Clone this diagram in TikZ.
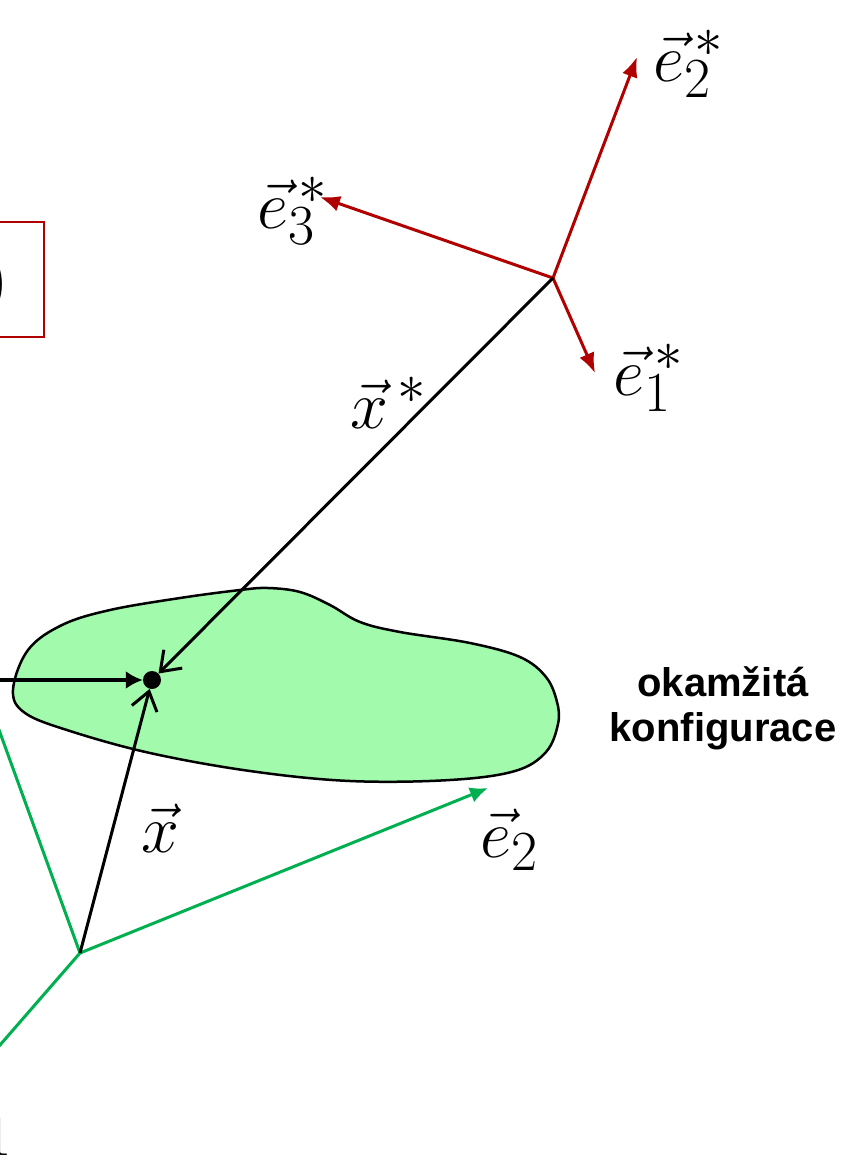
\documentclass[tikz,border=0pt]{standalone}
\usepackage{fontspec}
\newfontfamily\arialfont{Liberation Sans}
\usetikzlibrary{arrows.meta}
\definecolor{axred}{RGB}{176,0,0}
\definecolor{axgreen}{RGB}{0,176,80}
\definecolor{blobfill}{RGB}{162,250,172}
\begin{document}
\begin{tikzpicture}[x=1pt,y=-1pt,
  lab/.style={font=\Huge, inner sep=0pt, scale=2.733},
  redax/.style={draw=axred, line width=3pt, -{Latex[length=20pt,width=16pt]}},
  greenax/.style={draw=axgreen, line width=3pt, -{Latex[length=18pt,width=16pt]}},
  greenline/.style={draw=axgreen, line width=3pt},
  blackfill/.style={draw=black, line width=3.2pt, -{Latex[length=17pt,width=18pt]}},
  blackopen/.style={draw=black, line width=3pt, -{Straight Barb[length=18pt,width=26pt,line width=3pt]}}]
\useasboundingbox (0,0) rectangle (843,1162);
% body
\path[draw=black, line width=2.5pt, fill=blobfill] plot[smooth cycle, tension=0.6] coordinates {
 (13,690) (28,650) (62,625) (110,610) (180,598) (240,590) (268,588) (300,592)
 (330,605) (360,622) (400,632) (470,643) (520,657) (546,677) (557,702) (558,724)
 (546,752) (515,771) (450,780) (350,781) (250,771) (150,753) (70,731) (25,713)};
% coordinates
\coordinate (Ostar) at (553,278);
\coordinate (G) at (80,953);
\coordinate (r1) at (595,373);
\coordinate (r2) at (637,57);
\coordinate (r3) at (320,197);
\coordinate (g2) at (488,788);
\coordinate (gup) at (-30,650);
\coordinate (gdown) at (-40,1091);
\coordinate (lin) at (-40,680);
\node[circle, fill=black, inner sep=0pt, minimum size=18pt] (dot) at (152,680) {};
% red frame
\draw[axred, line width=2pt] (-100,222) rectangle (44,337);
\node[lab, anchor=base east] (paren) at (9,301) {$)$};
% red axes
\draw[redax] (Ostar) -- (r1);
\draw[redax] (Ostar) -- (r2);
\draw[redax] (Ostar) -- (r3);
% green axes
\draw[greenline] (G) -- (gup);
\draw[greenline] (G) -- (gdown);
\draw[greenax] (G) -- (g2);
% black vectors
\draw[blackopen] (Ostar) -- (dot);
\draw[blackopen] (G) -- (dot);
\draw[blackfill] (lin) -- (dot);
% labels
\node[lab] (le2s) at (689,64) {$\vec e_2^{\,*}$};
\node[lab] (le3s) at (293,211) {$\vec e_3^{\,*}$};
\node[lab] (le1s) at (649,378) {$\vec e_1^{\,*}$};
\node[lab] (lxs) at (389,403) {$\vec x^{\,*}$};
\node[lab] (lx) at (160,828) {$\vec x$};
\node[lab] (le2) at (510,840) {$\vec e_2$};
\node[lab, anchor=south east] (le1) at (13,1156) {$\vec e_1$};
\node[font=\arialfont\fontsize{40}{45}\selectfont\bfseries, align=center, inner sep=0pt] (txt) at (723,708) {okamžitá\\konfigurace};
\end{tikzpicture}
\end{document}
